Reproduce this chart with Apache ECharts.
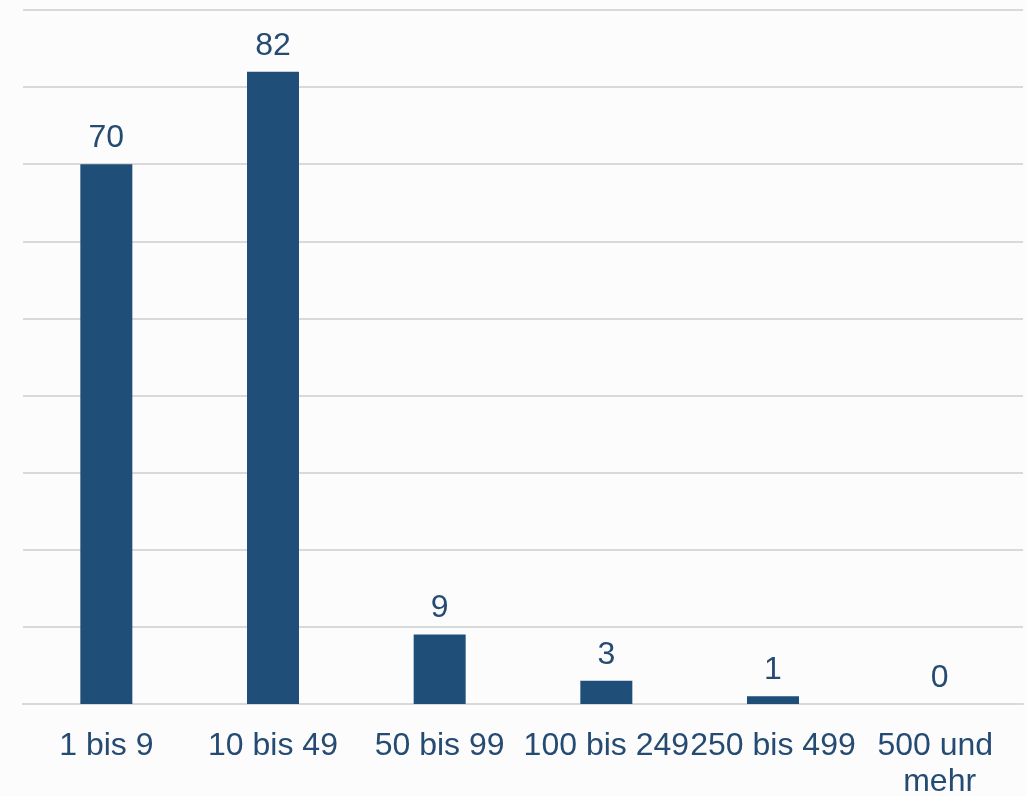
<!DOCTYPE html>
<html>
<head>
<meta charset="utf-8">
<style>
  html, body { margin: 0; padding: 0; background: #fcfcfc; }
  #chart { width: 1026px; height: 796px; }
</style>
<script src="https://cdn.jsdelivr.net/npm/echarts@6/dist/echarts.min.js"></script>
</head>
<body>
<div id="chart"></div>
<script>
// Betriebe nach Beschäftigtengrößenklassen
const categories = ['1 bis 9', '10 bis 49', '50 bis 99', '100 bis 249', '250 bis 499', '500 und mehr'];
const values = [70, 82, 9, 3, 1, 0];

const barColor = '#1f4e79';
const textColor = '#264b72';
const font = '"Liberation Sans", Arial, sans-serif';

const chart = echarts.init(document.getElementById('chart'), null, { renderer: 'canvas' });
chart.setOption({
  backgroundColor: '#fcfcfc',
  animation: false,
  grid: { left: 23, right: 3, top: 10, bottom: 92, containLabel: false, outerBoundsMode: 'none' },
  xAxis: {
    type: 'category',
    data: categories,
    axisLine: { show: true, lineStyle: { color: '#d9d9d9', width: 2 } },
    axisTick: { show: false },
    axisLabel: {
      interval: 0,
      color: textColor,
      fontFamily: font,
      fontSize: 32,
      lineHeight: 36,
      margin: 24,
      width: 170,
      overflow: 'break'
    }
  },
  yAxis: {
    type: 'value',
    min: 0,
    max: 90,
    interval: 10,
    axisLabel: { show: false },
    axisLine: { show: false },
    axisTick: { show: false },
    splitLine: { lineStyle: { color: '#d9d9d9', width: 2 } }
  },
  series: [{
    type: 'bar',
    data: values,
    barWidth: 52,
    itemStyle: { color: barColor },
    label: {
      show: true,
      position: 'top',
      distance: 10,
      color: textColor,
      fontFamily: font,
      fontSize: 32
    }
  }]
});
</script>
</body>
</html>
